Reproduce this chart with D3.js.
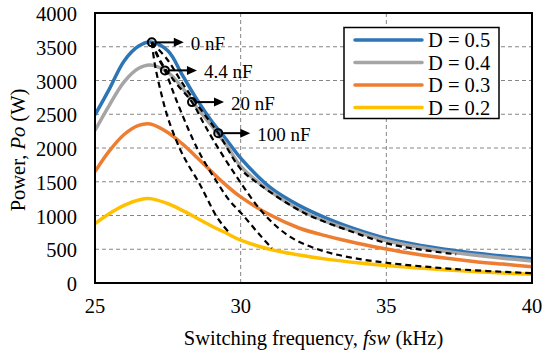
<!DOCTYPE html>
<html>
<head>
<meta charset="utf-8">
<script src="https://cdn.jsdelivr.net/npm/d3@7"></script>
<style>
  html, body { margin: 0; padding: 0; background: #fff; }
  svg text { font-family: "Liberation Serif", "DejaVu Serif", serif; }
</style>
</head>
<body>
<svg id="chart" width="542" height="356"></svg>
<script>
// ---- data ----
const freq = [25, 25.5, 26, 26.5, 26.9, 27.5, 28, 28.5, 29, 29.5, 30, 31, 32, 33, 34, 35, 36, 37, 38, 39, 40];
const d05 = [2490, 2880, 3290, 3510, 3570, 3440, 3080, 2720, 2400, 2130, 1850, 1420, 1150, 950, 790, 660, 570, 500, 445, 400, 360];
const d04 = [2260, 2640, 2980, 3180, 3230, 3120, 2890, 2600, 2330, 2050, 1730, 1360, 1090, 900, 755, 625, 540, 470, 415, 368, 326];
const d03 = [1650, 1960, 2200, 2335, 2355, 2230, 2060, 1860, 1650, 1450, 1275, 1010, 815, 690, 590, 505, 430, 370, 320, 280, 242];
const d02 = [880, 1030, 1150, 1230, 1250, 1175, 1075, 960, 845, 740, 635, 500, 415, 350, 300, 260, 225, 195, 170, 148, 129];
const seriesNames = ["D = 0.5", "D = 0.4", "D = 0.3", "D = 0.2"];
const seriesColors = ["#2E75B6", "#A5A5A5", "#ED7D31", "#FFC000"];

const c0F   = [26.95, 27.05, 27.25, 27.5, 27.9, 28.2, 28.55, 28.85, 29.15, 29.4, 29.6];
const c0P   = [3565, 3250, 2850, 2450, 2000, 1750, 1500, 1250, 1000, 850, 750];
const c44F  = [26.95, 27.15, 27.4, 27.8, 28.37, 28.75, 29.18, 29.6, 30.09, 30.6, 31.07];
const c44P  = [3565, 3350, 3150, 2700, 2118, 1800, 1500, 1230, 1000, 740, 514];
const c20F  = [26.95, 27.3, 27.8, 28.33, 28.7, 29.06, 29.86, 30.78, 31.69, 32.72, 33.75, 35.0, 37.4, 40];
const c20P  = [3565, 3250, 2950, 2680, 2390, 2118, 1575, 1033, 686, 489, 380, 300, 205, 145];
const c100F = [26.95, 27.5, 28.0, 28.6, 29.23, 30.0, 30.66, 32.15, 33.75, 35.24, 37.4];
const c100P = [3565, 3300, 2960, 2590, 2220, 1690, 1455, 1045, 770, 565, 425];

const capLabels = ["0 nF", "4.4 nF", "20 nF", "100 nF"];
const capMarkF = [26.95, 27.4, 28.33, 29.23];
const capMarkP = [3565, 3150, 2680, 2220];

const xTicks = [25, 30, 35, 40];
const yTicks = [0, 500, 1000, 1500, 2000, 2500, 3000, 3500, 4000];

// ---- layout ----
const FONT = "'Liberation Serif', 'DejaVu Serif', serif";
const svg = d3.select("#chart");
const L = 95, R = 532, T = 13, B = 283;
const x = d3.scaleLinear().domain([25, 40]).range([L, R]);
const y = d3.scaleLinear().domain([0, 4000]).range([B, T]);

svg.append("defs").append("clipPath").attr("id", "clip")
  .append("rect").attr("x", L).attr("y", T).attr("width", R - L).attr("height", B - T);

// grid
const grid = svg.append("g");
grid.selectAll(".hg").data(yTicks.filter(v => v > 0 && v < 4000)).enter().append("line")
  .attr("x1", L).attr("x2", R).attr("y1", d => y(d)).attr("y2", d => y(d))
  .attr("stroke", "#858585").attr("stroke-width", 1).attr("stroke-dasharray", "4,3");
grid.selectAll(".vg").data(xTicks.filter(v => v > 25 && v < 40)).enter().append("line")
  .attr("y1", T).attr("y2", B).attr("x1", d => x(d)).attr("x2", d => x(d))
  .attr("stroke", "#858585").attr("stroke-width", 1).attr("stroke-dasharray", "4,3");

const plot = svg.append("g").attr("clip-path", "url(#clip)");
const smooth = d3.line().x(d => x(d[0])).y(d => y(d[1])).curve(d3.curveCatmullRom.alpha(0.5));
const mono = d3.line().x(d => x(d[0])).y(d => y(d[1])).curve(d3.curveMonotoneX);

const series = [d05, d04, d03, d02];
series.forEach((vals, i) => {
  plot.append("path").datum(freq.map((f, j) => [f, vals[j]]))
    .attr("fill", "none").attr("stroke", seriesColors[i]).attr("stroke-width", 3.5)
    .attr("stroke-linejoin", "round").attr("d", smooth);
});

// dashed capacitance curves
[[c0F, c0P], [c44F, c44P], [c20F, c20P], [c100F, c100P]].forEach(([fs, ps]) => {
  plot.append("path").datum(fs.map((f, j) => [f, ps[j]]))
    .attr("fill", "none").attr("stroke", "#000").attr("stroke-width", 2.2)
    .attr("stroke-dasharray", "6,4").attr("d", smooth);
});

// frame
svg.append("rect").attr("x", L).attr("y", T).attr("width", R - L).attr("height", B - T)
  .attr("fill", "none").attr("stroke", "#000").attr("stroke-width", 2);

// markers + arrows + labels
const ann = svg.append("g");
capLabels.forEach((lab, i) => {
  const mx = x(capMarkF[i]), my = y(capMarkP[i]);
  ann.append("line").attr("x1", mx + 4).attr("x2", mx + 24).attr("y1", my).attr("y2", my)
    .attr("stroke", "#000").attr("stroke-width", 2);
  ann.append("path").attr("d", `M${mx + 32},${my} L${mx + 22},${my - 4.5} L${mx + 22},${my + 4.5} Z`)
    .attr("fill", "#000");
  ann.append("circle").attr("cx", mx).attr("cy", my).attr("r", 4)
    .attr("fill", "none").attr("stroke", "#000").attr("stroke-width", 2);
  ann.append("text").attr("x", mx + 39).attr("y", my + 8).attr("font-family", FONT)
    .attr("font-size", 19).text(lab);
});

// axis tick labels
svg.selectAll(".yt").data(yTicks).enter().append("text")
  .attr("x", 77).attr("y", d => y(d) + 8).attr("text-anchor", "end")
  .attr("font-family", FONT).attr("font-size", 20.5).text(d => d);
svg.selectAll(".xt").data(xTicks).enter().append("text")
  .attr("x", d => x(d)).attr("y", 313).attr("text-anchor", "middle")
  .attr("font-family", FONT).attr("font-size", 20.5).text(d => d);

// axis titles
const xt = svg.append("text").attr("x", (L + R) / 2).attr("y", 345)
  .attr("text-anchor", "middle").attr("font-family", FONT).attr("font-size", 20.5);
xt.append("tspan").text("Switching frequency, ");
xt.append("tspan").attr("font-style", "italic").text("fsw");
xt.append("tspan").text(" (kHz)");

const yt = svg.append("text").attr("transform", "translate(25,150) rotate(-90)")
  .attr("text-anchor", "middle").attr("font-family", FONT).attr("font-size", 20.5);
yt.append("tspan").text("Power, ");
yt.append("tspan").attr("font-style", "italic").text("Po");
yt.append("tspan").text(" (W)");

// legend
const lg = svg.append("g");
lg.append("rect").attr("x", 344).attr("y", 27.5).attr("width", 155).attr("height", 91)
  .attr("fill", "#fff").attr("stroke", "#000").attr("stroke-width", 1.5);
seriesNames.forEach((n, i) => {
  const ly = 40 + i * 22.5;
  lg.append("line").attr("x1", 355).attr("x2", 422).attr("y1", ly).attr("y2", ly)
    .attr("stroke", seriesColors[i]).attr("stroke-width", 3.5).attr("stroke-linecap", "round");
  lg.append("text").attr("x", 428).attr("y", ly + 7).attr("font-family", FONT)
    .attr("font-size", 20.5).text(n);
});
</script>
</body>
</html>
